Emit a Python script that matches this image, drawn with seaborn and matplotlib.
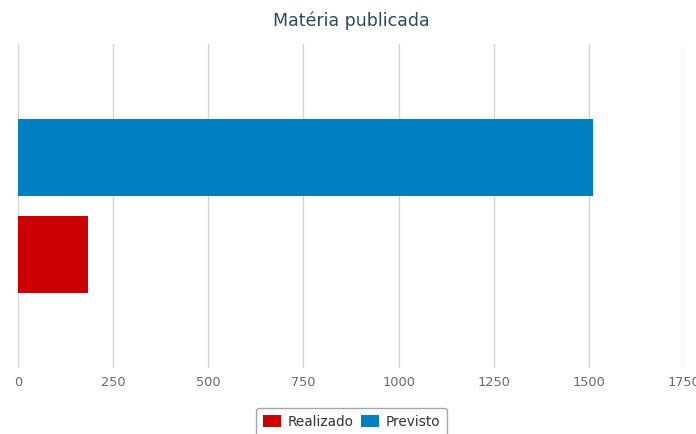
import matplotlib
matplotlib.use("Agg")
import matplotlib.pyplot as plt
from matplotlib.patches import Patch
import seaborn as sns
import pandas as pd

# Data
categories = ["Matéria publicada"]
series_names = ["Previsto", "Realizado"]
previsto = [1510]
realizado = [185]
x_ticks = [0, 250, 500, 750, 1000, 1250, 1500, 1750]
legend_order = ["Realizado", "Previsto"]

colors = {"Previsto": "#0080c1", "Realizado": "#cc0000"}

df = pd.DataFrame({
    "categoria": categories * 2,
    "serie": ["Previsto"] * len(previsto) + ["Realizado"] * len(realizado),
    "valor": previsto + realizado,
})

sns.set_theme(style="white")
plt.rcParams["font.family"] = ["DejaVu Sans"]

W, H = 696, 434
fig = plt.figure(figsize=(W / 100, H / 100), dpi=100)
fig.patch.set_facecolor("white")
ax = fig.add_axes([18 / W, 1 - 368 / H, 666 / W, 324 / H])

sns.barplot(
    data=df, x="valor", y="categoria", hue="serie",
    hue_order=series_names, palette=colors, orient="h",
    width=0.6, gap=0.21, saturation=1, errorbar=None,
    linewidth=0, legend=False, ax=ax,
)

ax.set_xlim(0, 1750)
ax.set_ylim(0.5, -0.5)
ax.set_xticks(x_ticks)
ax.set_xticklabels([str(t) for t in x_ticks])
ax.set_yticks([])
ax.set_xlabel("")
ax.set_ylabel("")
ax.xaxis.grid(True, color="#d4d4d4", linewidth=1)
ax.set_axisbelow(True)
for s in ax.spines.values():
    s.set_visible(False)
ax.tick_params(axis="x", length=0, pad=6, labelsize=9.3, labelcolor="#6a6a6a")
ax.set_facecolor("white")

fig.text(351 / W, 1 - 21 / H, "Matéria publicada", ha="center", va="center",
         fontsize=12.5, color="#2a4a6b")

handles = [Patch(facecolor=colors[n], edgecolor="none", label=n) for n in legend_order]
leg = fig.legend(
    handles=handles, loc="upper center", bbox_to_anchor=(351.5 / W, 1 - 408 / H),
    ncol=2, frameon=True, fancybox=True, fontsize=9.8, handlelength=1.35,
    handleheight=1.0, handletextpad=0.45, columnspacing=0.55, borderpad=0.5,
    borderaxespad=0, labelcolor="#333333",
)
leg.get_frame().set_edgecolor("#909090")
leg.get_frame().set_linewidth(1)

fig.savefig("out.png", dpi=100)
